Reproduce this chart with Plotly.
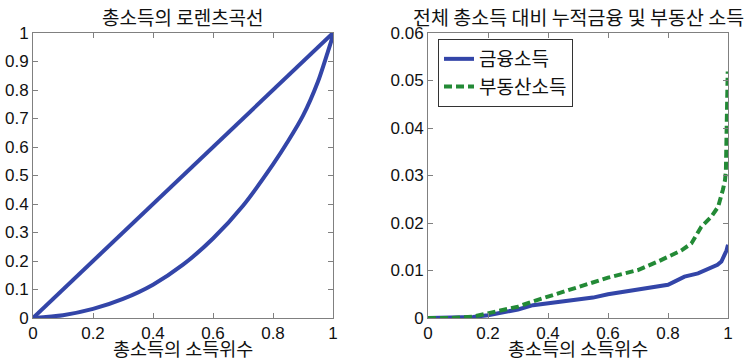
import plotly.graph_objects as go

# Lorenz curve of total income
lorenz_x = [0.0, 0.1, 0.2, 0.3, 0.4, 0.5, 0.6, 0.7, 0.8, 0.85, 0.9, 0.95, 0.98, 0.995, 1.0]
lorenz_y = [0.0, 0.010, 0.032, 0.067, 0.117, 0.187, 0.279, 0.394, 0.539, 0.620, 0.710, 0.830,
            0.925, 0.975, 1.0]
equality_x = [0.0, 1.0]
equality_y = [0.0, 1.0]

# Cumulative financial / real-estate income relative to total income
fin_x = [0.0, 0.08, 0.15, 0.2, 0.25, 0.3, 0.35, 0.4, 0.45, 0.5, 0.55, 0.6, 0.65, 0.7, 0.75, 0.8,
         0.82, 0.855, 0.9, 0.944, 0.965, 0.978, 0.99, 0.995, 1.0]
fin_y = [0.0, 0.0, 0.0002, 0.0006, 0.0011, 0.0018, 0.0027, 0.0031, 0.0034, 0.0038, 0.0043, 0.0050,
         0.0055, 0.0062, 0.0066, 0.0070, 0.0076, 0.0087, 0.0094, 0.0105, 0.0112, 0.0119, 0.0133, 0.0142, 0.0154]
re_x = [0.0, 0.08, 0.15, 0.2, 0.25, 0.3, 0.35, 0.4, 0.45, 0.5, 0.55, 0.6, 0.65, 0.7, 0.767, 0.822,
        0.844, 0.878, 0.911, 0.944, 0.967, 0.983, 0.99, 0.993, 0.996, 0.999]
re_y = [0.0, 0.0, 0.0003, 0.0010, 0.0016, 0.0024, 0.0035, 0.0045, 0.0056, 0.0066, 0.0075, 0.0085,
        0.0093, 0.0101, 0.0119, 0.0137, 0.0142, 0.0157, 0.0192, 0.0213, 0.0234, 0.0270, 0.0290, 0.0310, 0.0400, 0.0519]

title_left = "총소득의 로렌츠곡선"
title_right = "전체 총소득 대비 누적금융 및 부동산 소득"
xlabel = "총소득의 소득위수"
name_fin = "금융소득"
name_re = "부동산소득"

BLUE = "#3345a8"
GREEN = "#238a36"
FONT = "Liberation Sans, Noto Sans CJK KR, sans-serif"
KFONT = "Noto Sans CJK KR, Liberation Sans, sans-serif"

fig = go.Figure()
fig.add_trace(go.Scatter(x=equality_x, y=equality_y, mode="lines", line=dict(color=BLUE, width=4),
                         showlegend=False, xaxis="x", yaxis="y"))
fig.add_trace(go.Scatter(x=lorenz_x, y=lorenz_y, mode="lines",
                         line=dict(color=BLUE, width=4, shape="spline", smoothing=0.8),
                         showlegend=False, xaxis="x", yaxis="y"))
fig.add_trace(go.Scatter(x=fin_x, y=fin_y, mode="lines", name=name_fin,
                         line=dict(color=BLUE, width=4), xaxis="x2", yaxis="y2"))
fig.add_trace(go.Scatter(x=re_x, y=re_y, mode="lines", name=name_re,
                         line=dict(color=GREEN, width=4, dash="8px,4px"), xaxis="x2", yaxis="y2"))

ax_common = dict(showline=True, linecolor="#808080", linewidth=1, mirror="allticks",
                 ticks="inside", ticklen=5, tickcolor="#808080", showgrid=False, zeroline=False,
                 automargin=False, tickfont=dict(family=FONT, size=17, color="#111"))

W, H = 750, 361
ydom = [(H - 318) / H, (H - 33) / H]
fig.update_layout(
    width=W, height=H, margin=dict(l=0, r=0, t=0, b=0),
    plot_bgcolor="white", paper_bgcolor="white",
    xaxis=dict(domain=[33 / W, 333 / W], range=[0, 1], dtick=0.2, **ax_common),
    yaxis=dict(domain=ydom, range=[0, 1], dtick=0.1, anchor="x", **ax_common),
    xaxis2=dict(domain=[428 / W, 728 / W], range=[0, 1], dtick=0.2, anchor="y2", **ax_common),
    yaxis2=dict(domain=ydom, range=[0, 0.06], dtick=0.01, anchor="x2", **ax_common),
    legend=dict(x=438 / W, y=(H - 39) / H, xanchor="left", yanchor="top",
                bgcolor="white", bordercolor="#333", borderwidth=1,
                font=dict(family=KFONT, size=19, color="#111"),
                tracegroupgap=0, itemwidth=30),
    showlegend=True,
)

annots = [
    (183 / W, (H - 17) / H, title_left, 19),
    (578 / W, (H - 17) / H, title_right, 19.5),
    (183 / W, (H - 348) / H, xlabel, 18.5),
    (578 / W, (H - 348) / H, xlabel, 18.5),
]
for ax_, ay_, txt, fs in annots:
    fig.add_annotation(x=ax_, y=ay_, xref="paper", yref="paper", text=txt, showarrow=False,
                       xanchor="center", yanchor="middle",
                       font=dict(family=KFONT, size=fs, color="#111"))

fig.write_html("out.html")
